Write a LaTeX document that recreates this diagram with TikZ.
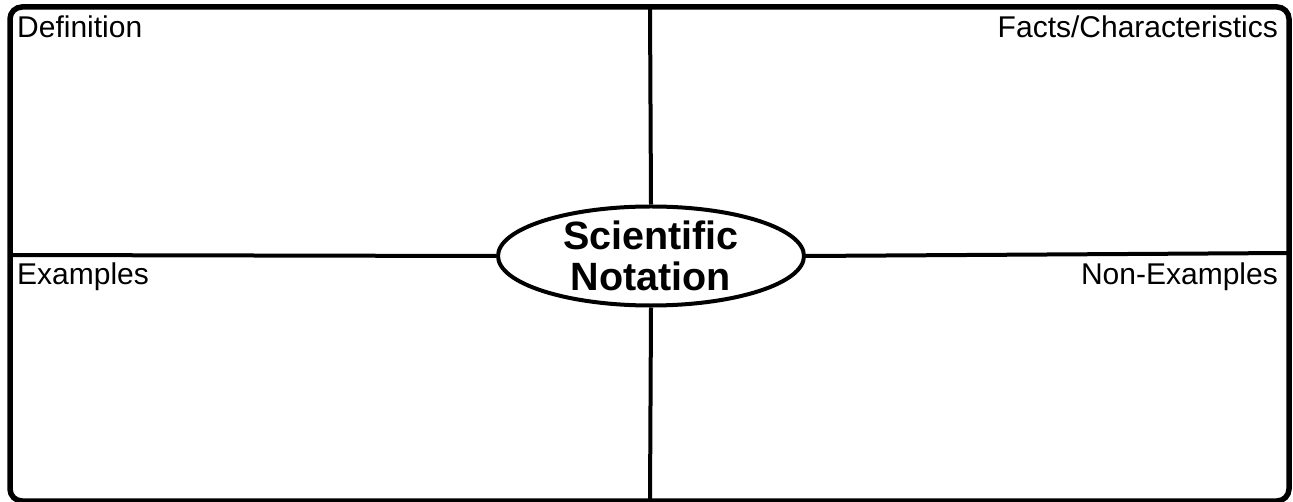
\documentclass[tikz,border=0pt]{standalone}
\usepackage{fontspec}
\setmainfont{Liberation Sans}
\usetikzlibrary{shapes.geometric}
\tikzset{
  frameline/.style={line width=5.5pt, rounded corners=12pt},
  divline/.style={line width=4pt},
  cornerlabel/.style={inner sep=0pt, font=\fontsize{30}{34}\selectfont},
  centerbubble/.style={ellipse, draw, line width=4pt, minimum width=306pt, minimum height=97pt, inner sep=0pt, align=center, font=\fontsize{39.5}{41}\bfseries\selectfont}
}
\begin{document}
\begin{tikzpicture}[x=1pt,y=-1pt]
\useasboundingbox (0,0) rectangle (1293,502);
\fill[white] (0,0) rectangle (1293,502);
\coordinate (tl) at (10,7);
\coordinate (br) at (1289,501);
\coordinate (topmid) at (650,7);
\coordinate (botmid) at (650,501);
\coordinate (leftmid) at (10,255);
\coordinate (rightmid) at (1289,253);
\draw[frameline] (tl) rectangle (br);
\node[centerbubble] (c) at (651,256) {Scientific\\Notation};
\draw[divline] (topmid) -- (c.north);
\draw[divline] (c.south) -- (botmid);
\draw[divline] (leftmid) -- (c.west);
\draw[divline] (c.east) -- (rightmid);
\node[cornerlabel, anchor=base west] (def) at (17,38) {Definition};
\node[cornerlabel, anchor=base east] (facts) at (1278,38) {Facts/Characteristics};
\node[cornerlabel, anchor=base west] (ex) at (17,285) {Examples};
\node[cornerlabel, anchor=base east] (nonex) at (1278,285) {Non-Examples};
\end{tikzpicture}
\end{document}
